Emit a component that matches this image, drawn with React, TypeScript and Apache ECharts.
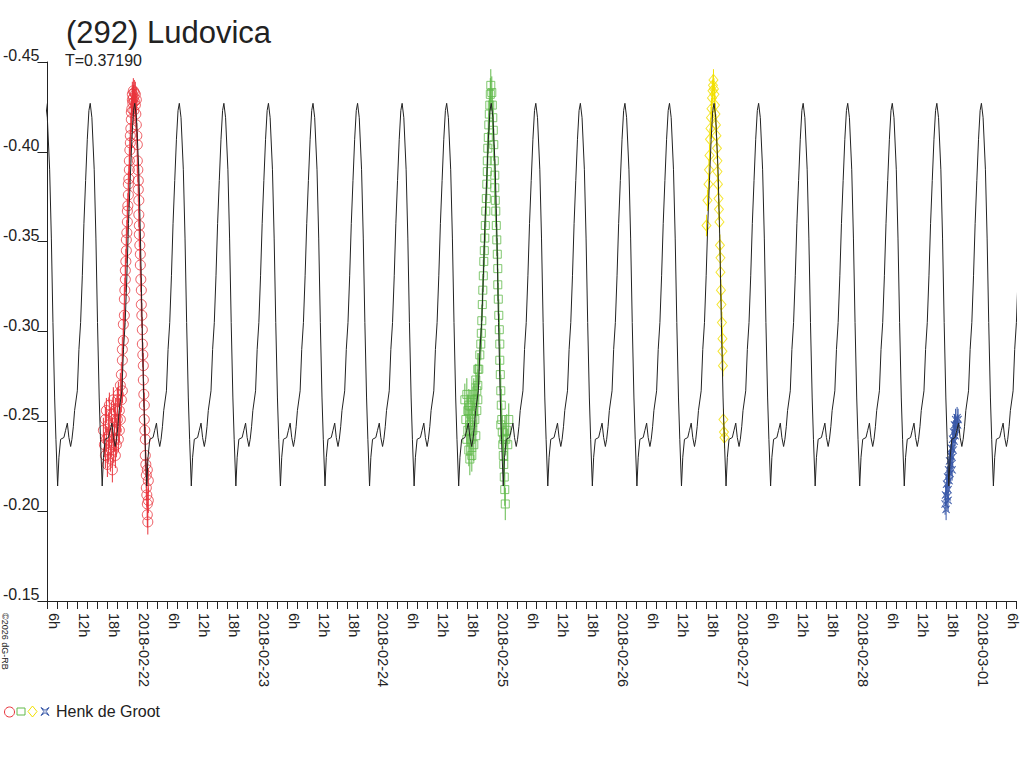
import React, { useEffect, useRef } from "react";
import * as echarts from "echarts";

// ---------- texts ----------
const TITLE = "(292) Ludovica";
const SUBTITLE = "T=0.37190";
const OBSERVER = "Henk de Groot";
const COPYRIGHT = "©2026 dG-RB";

// ---------- axes ----------
// x: hours since 2018-02-21 00:00 UT
const START_UTC = Date.UTC(2018, 1, 21);
const X_MIN = 6;
const X_MAX = 200;
const X_STEP = 2;
const X_LABEL_STEP = 6;
const Y_MIN = -0.45;
const Y_MAX = -0.15;
const Y_STEP = 0.05;

// ---------- model lightcurve (one period) ----------
const PERIOD_DAYS = 0.3719;
const MODEL_PEAK_HOUR = 14.56;
const modelPhase = [0, 0.038, 0.09, 0.128, 0.164, 0.202, 0.231, 0.269, 0.298, 0.336, 0.41, 0.448, 0.487, 0.522, 0.561, 0.59, 0.621, 0.65, 0.711, 0.747, 0.785, 0.823, 0.859, 0.897, 0.935, 0.971];
const modelMag = [-0.427, -0.419, -0.39, -0.352, -0.305, -0.263, -0.24, -0.214, -0.23, -0.24, -0.241, -0.245, -0.249, -0.241, -0.236, -0.24, -0.247, -0.256, -0.267, -0.29, -0.305, -0.331, -0.36, -0.384, -0.407, -0.423];
const MODEL_FIRST_CYCLE = -1;
const MODEL_LAST_CYCLE = 22;

// ---------- observations [hour, mag] ----------
const redObs = [
  [17.2, -0.245], [17.4, -0.237], [17.6, -0.251], [17.6, -0.231], [17.8, -0.256], [17.8, -0.24], [18.0, -0.226], [18.2, -0.248], [18.2, -0.234], [18.4, -0.259], [18.4, -0.242], [18.6, -0.229], [18.8, -0.254], [18.8, -0.237], [19.0, -0.245], [19.0, -0.223], [19.2, -0.262], [19.2, -0.234], [19.4, -0.251], [19.4, -0.24], [19.6, -0.231], [19.6, -0.256], [19.8, -0.245], [19.8, -0.237], [20.0, -0.262], [20.0, -0.251], [20.2, -0.24], [20.2, -0.265], [20.4, -0.256], [20.4, -0.245], [20.6, -0.27], [20.6, -0.251], [20.8, -0.262], [20.8, -0.276], [21.0, -0.267], [21.0, -0.284],
  [21.0, -0.29], [21.2, -0.295], [21.2, -0.304], [21.4, -0.309], [21.4, -0.318], [21.5, -0.323], [21.6, -0.329], [21.6, -0.334], [21.7, -0.339], [21.8, -0.345], [21.8, -0.351], [21.9, -0.355], [22.0, -0.361], [22.0, -0.367], [22.1, -0.37], [22.2, -0.376], [22.2, -0.382], [22.3, -0.385], [22.4, -0.39], [22.4, -0.395], [22.5, -0.401], [22.6, -0.405], [22.6, -0.409], [22.7, -0.413], [22.8, -0.418], [22.8, -0.422], [22.9, -0.424], [23.0, -0.429], [23.0, -0.432], [23.1, -0.427], [23.2, -0.434], [23.2, -0.43], [23.3, -0.423], [23.4, -0.433], [23.4, -0.428],
  [23.6, -0.432], [23.6, -0.426], [23.7, -0.421], [23.8, -0.429], [23.8, -0.415], [23.9, -0.409], [24.0, -0.404], [24.0, -0.395], [24.1, -0.39], [24.2, -0.384], [24.2, -0.379], [24.3, -0.373], [24.3, -0.365], [24.4, -0.359], [24.4, -0.354], [24.5, -0.348], [24.6, -0.343], [24.6, -0.337], [24.7, -0.329], [24.8, -0.323], [24.8, -0.315], [24.9, -0.309], [25.0, -0.301], [25.0, -0.293], [25.1, -0.287], [25.2, -0.281], [25.2, -0.273], [25.3, -0.265], [25.4, -0.259], [25.4, -0.251], [25.5, -0.245], [25.6, -0.24], [25.6, -0.231], [25.7, -0.226], [25.8, -0.22], [25.8, -0.213], [25.9, -0.209], [26.0, -0.204], [26.0, -0.198], [26.1, -0.194], [26.2, -0.206], [26.2, -0.217], [26.0, -0.223],
];
const greenObs = [
  [89.6, -0.262], [89.8, -0.251], [90.0, -0.24], [90.0, -0.265], [90.2, -0.256], [90.2, -0.245], [90.4, -0.234], [90.4, -0.259], [90.6, -0.248], [90.6, -0.229], [90.8, -0.254], [90.8, -0.24], [91.0, -0.262], [91.0, -0.231], [91.2, -0.245], [91.2, -0.256], [91.4, -0.237], [91.4, -0.265], [91.6, -0.251], [91.6, -0.262], [91.8, -0.242], [91.8, -0.273], [92.0, -0.256], [92.0, -0.267], [92.2, -0.279], [92.2, -0.262],
  [92.2, -0.27], [92.4, -0.279], [92.6, -0.287], [92.8, -0.293], [92.9, -0.299], [93.0, -0.306], [93.1, -0.315], [93.2, -0.323], [93.3, -0.331], [93.4, -0.339], [93.5, -0.345], [93.6, -0.352], [93.7, -0.359], [93.8, -0.367], [93.9, -0.374], [94.0, -0.382], [94.1, -0.389], [94.1, -0.395], [94.2, -0.402], [94.3, -0.408], [94.4, -0.415], [94.5, -0.421], [94.6, -0.426], [94.7, -0.432], [94.8, -0.437],
  [95.0, -0.433], [95.1, -0.426], [95.2, -0.419], [95.3, -0.412], [95.4, -0.404], [95.5, -0.395], [95.6, -0.387], [95.6, -0.38], [95.7, -0.373], [95.8, -0.367], [95.9, -0.359], [96.0, -0.351], [96.1, -0.343], [96.2, -0.335], [96.2, -0.326], [96.3, -0.318], [96.4, -0.309], [96.5, -0.301], [96.6, -0.293], [96.6, -0.284], [96.7, -0.276], [96.8, -0.267], [96.9, -0.259], [97.0, -0.251], [97.1, -0.244], [97.2, -0.237], [97.3, -0.231], [97.4, -0.226], [97.5, -0.219], [97.6, -0.212], [97.7, -0.204], [96.8, -0.248], [97.8, -0.24], [98.0, -0.245], [98.2, -0.237], [98.4, -0.251], [97.4, -0.24],
];
const yellowObs = [
  [138.0, -0.359], [138.2, -0.373], [138.4, -0.382], [138.5, -0.39], [138.6, -0.398], [138.7, -0.407], [138.8, -0.413], [138.9, -0.419], [139.0, -0.424], [139.1, -0.43], [139.2, -0.434], [139.3, -0.437], [139.4, -0.44], [139.5, -0.435], [139.6, -0.432], [139.7, -0.426], [139.8, -0.421], [139.9, -0.415], [140.0, -0.409], [140.1, -0.402], [140.2, -0.395], [140.2, -0.389], [140.3, -0.382], [140.4, -0.374], [140.5, -0.368], [140.6, -0.361], [140.7, -0.348], [140.8, -0.341], [140.8, -0.333], [140.9, -0.323], [141.0, -0.315], [141.1, -0.305], [141.2, -0.296], [141.2, -0.289], [141.3, -0.281], [141.4, -0.251], [141.5, -0.244], [141.6, -0.241],
];
const blueObs = [
  [185.8, -0.204], [185.9, -0.209], [186.0, -0.201], [186.1, -0.215], [186.2, -0.208], [186.3, -0.219], [186.4, -0.212], [186.5, -0.223], [186.6, -0.217], [186.7, -0.228], [186.8, -0.221], [186.9, -0.231], [187.0, -0.226], [187.1, -0.235], [187.2, -0.23], [187.3, -0.24], [187.4, -0.234], [187.5, -0.244], [187.6, -0.239], [187.7, -0.248], [187.8, -0.242], [187.9, -0.251], [188.0, -0.246], [188.2, -0.252], [188.3, -0.248], [188.4, -0.251], [187.2, -0.223], [186.4, -0.206],
];
const RED_ERR = 0.007;
const GREEN_ERR = 0.009;
const YELLOW_ERR = 0.006;
const BLUE_ERR = 0.006;

// ---------- styles ----------
const RED = "#e8333b";
const GREEN = "#62ba4c";
const YELLOW = "#f2e000";
const BLUE = "#3858a8";
const INK = "#222222";
const FONT = '"Liberation Sans", Arial, sans-serif';
const STAR_PATH = "path://M0,0L5,3.5L10,0L6.5,5L10,10L5,6.5L0,10L3.5,5Z";

function buildModel(): number[][] {
  const out: number[][] = [];
  const periodH = PERIOD_DAYS * 24;
  for (let k = MODEL_FIRST_CYCLE; k <= MODEL_LAST_CYCLE; k++) {
    for (let i = 0; i < modelPhase.length; i++) {
      out.push([MODEL_PEAK_HOUR + (k + modelPhase[i]) * periodH, modelMag[i]]);
    }
  }
  out.push([MODEL_PEAK_HOUR + (MODEL_LAST_CYCLE + 1) * periodH, modelMag[0]]);
  return out;
}

function errSeries(data: number[][], err: number, color: string) {
  return {
    type: "custom",
    data,
    silent: true,
    z: 1,
    renderItem: (_p: any, api: any) => {
      const x = api.value(0);
      const y = api.value(1);
      const a = api.coord([x, y - err]);
      const b = api.coord([x, y + err]);
      return {
        type: "line",
        shape: { x1: a[0], y1: a[1], x2: b[0], y2: b[1] },
        style: { stroke: color, lineWidth: 1 },
      };
    },
  };
}

function scatter(data: number[][], symbol: string, size: any, color: string) {
  return {
    type: "scatter",
    data,
    symbol,
    symbolSize: size,
    silent: true,
    z: 2,
    itemStyle: { color: "rgba(0,0,0,0)", borderColor: color, borderWidth: 1 },
  };
}

function xLabel(v: number): string {
  const h = Math.round(v);
  if (h % X_LABEL_STEP !== 0) return "";
  const hod = ((h % 24) + 24) % 24;
  if (hod === 0) {
    return new Date(START_UTC + h * 3600000).toISOString().slice(0, 10);
  }
  return hod + "h";
}

export default function App() {
  const ref = useRef<HTMLDivElement>(null);
  useEffect(() => {
    const el = ref.current;
    if (!el) return;
    const chart = echarts.init(el, null, { renderer: "svg", width: 1024, height: 768 });
    const option: any = {
      animation: false,
      backgroundColor: "#ffffff",
      grid: { left: 45, right: 8, top: 62, bottom: 167, containLabel: false },
      xAxis: {
        type: "value",
        min: X_MIN,
        max: X_MAX,
        interval: X_STEP,
        splitLine: { show: false },
        axisLine: { onZero: false, lineStyle: { color: INK, width: 1 } },
        axisTick: { length: 8, lineStyle: { color: INK, width: 1 } },
        axisLabel: {
          rotate: -90,
          margin: 12,
          align: "left",
          verticalAlign: "bottom",
          lineHeight: 13,
          fontSize: 14.5,
          fontFamily: FONT,
          color: INK,
          formatter: xLabel,
          showMinLabel: true,
          showMaxLabel: true,
        },
      },
      yAxis: {
        type: "value",
        inverse: true,
        min: Y_MIN,
        max: Y_MAX,
        interval: Y_STEP,
        splitLine: { show: false },
        axisLine: { show: true, onZero: false, lineStyle: { color: INK, width: 1 } },
        axisTick: { show: true, length: 10, lineStyle: { color: INK, width: 1 } },
        axisLabel: {
          margin: 8,
          verticalAlign: "bottom",
          lineHeight: 13,
          fontSize: 16,
          fontFamily: FONT,
          color: INK,
          formatter: (v: number) => v.toFixed(2),
        },
      },
      series: [
        errSeries(redObs, RED_ERR, RED),
        errSeries(greenObs, GREEN_ERR, GREEN),
        errSeries(yellowObs, YELLOW_ERR, YELLOW),
        errSeries(blueObs, BLUE_ERR, BLUE),
        scatter(redObs, "circle", 10, RED),
        scatter(greenObs, "rect", 8, GREEN),
        scatter(yellowObs, "diamond", [9, 11], YELLOW),
        scatter(blueObs, STAR_PATH, 7, BLUE),
        {
          type: "line",
          data: buildModel(),
          showSymbol: false,
          symbol: "none",
          silent: true,
          clip: true,
          z: 3,
          lineStyle: { color: INK, width: 1 },
        },
      ],
      graphic: [
        {
          type: "text",
          x: 66,
          y: 32,
          style: { text: TITLE, fontSize: 31, fontFamily: FONT, fill: INK, align: "left", verticalAlign: "middle" },
        },
        {
          type: "text",
          x: 65,
          y: 60,
          style: { text: SUBTITLE, fontSize: 16, fontFamily: FONT, fill: INK, align: "left", verticalAlign: "middle" },
        },
        {
          type: "text",
          x: 5,
          y: 613,
          rotation: -Math.PI / 2,
          style: { text: COPYRIGHT, fontSize: 9, fontFamily: FONT, fill: INK, align: "left", verticalAlign: "middle" },
        },
        { type: "circle", shape: { cx: 9.5, cy: 712, r: 5 }, style: { fill: "none", stroke: RED, lineWidth: 1 } },
        { type: "rect", shape: { x: 17, y: 708, width: 8, height: 7 }, style: { fill: "none", stroke: GREEN, lineWidth: 1 } },
        {
          type: "polygon",
          shape: { points: [[32.5, 706], [37, 711.5], [32.5, 717], [28, 711.5]] },
          style: { fill: "none", stroke: YELLOW, lineWidth: 1 },
        },
        {
          type: "polygon",
          shape: { points: [[41, 707.5], [45, 710.3], [49, 707.5], [46.2, 711.5], [49, 715.5], [45, 712.7], [41, 715.5], [43.8, 711.5]] },
          style: { fill: "none", stroke: BLUE, lineWidth: 1 },
        },
        {
          type: "text",
          x: 56,
          y: 711.5,
          style: { text: OBSERVER, fontSize: 16, fontFamily: FONT, fill: INK, align: "left", verticalAlign: "middle" },
        },
      ],
    };
    chart.setOption(option);
    return () => chart.dispose();
  }, []);
  return (
    <div
      ref={ref}
      style={{ position: "fixed", left: 0, top: 0, width: 1024, height: 768, background: "#ffffff" }}
    />
  );
}
